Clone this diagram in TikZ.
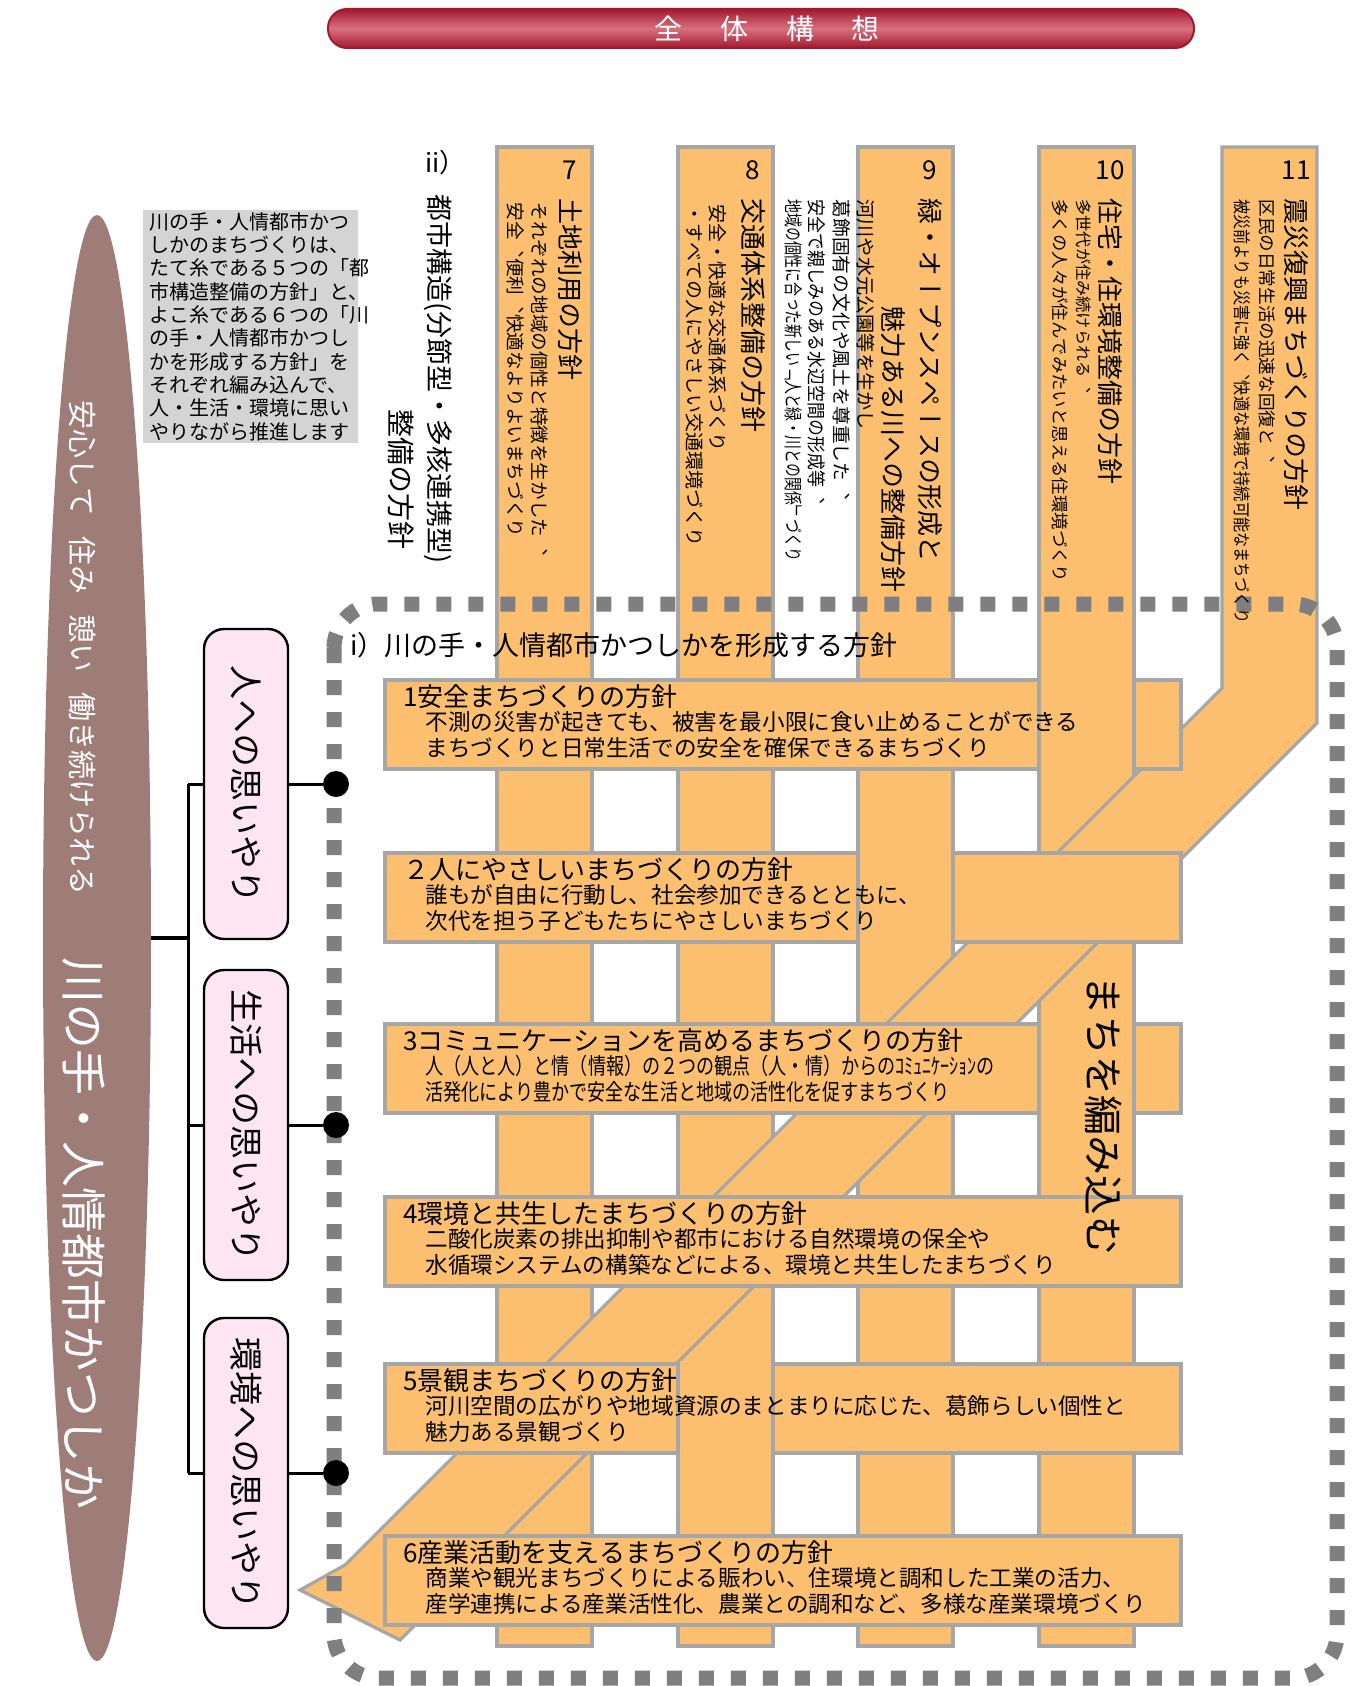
\documentclass[tikz,border=0pt]{standalone}
\usepackage{fontspec}
\setmainfont{Noto Sans CJK JP}
\newfontfamily\vjp[Vertical=RotatedGlyphs]{Noto Sans CJK JP}
\usetikzlibrary{shapes.geometric}
\definecolor{orng}{HTML}{FBBF6F}
\definecolor{gbord}{HTML}{A6A6A6}
\definecolor{dotgray}{HTML}{7F7F7F}
\definecolor{mauve}{HTML}{9E7D79}
\definecolor{boxgray}{HTML}{D4D4D4}
\definecolor{pinkc}{HTML}{FDE6F2}
\definecolor{tred}{HTML}{A3182F}
\definecolor{tlight}{HTML}{D8707E}
\newcommand\fs[1]{\fontsize{#1}{#1}\selectfont}
\begin{document}
\begin{tikzpicture}[x=0.5pt,y=-0.5pt,
  strip/.style={fill=orng,draw=gbord,line width=1.6pt},
  band/.style={fill=orng,draw=gbord,line width=2pt},
  vt/.style={rotate=-90,anchor=west,inner sep=0pt,font={\vjp\fs{#1}}},
  bt/.style={anchor=west,inner sep=0pt,font=\fs{13}},
  bd/.style={anchor=west,inner sep=0pt,font=\fs{11.3}},
  pinkbox/.style={rotate=-90,draw=black,line width=1.2pt,fill=pinkc,rounded corners=10pt,
     minimum width=155pt,minimum height=42pt,inner sep=0pt,font={\vjp\fs{17}}},
  dot/.style={circle,fill=black,minimum size=13pt,inner sep=0pt},
  conn/.style={line width=1.5pt}]
\useasboundingbox (0,0) rectangle (1354,1686);
% title bar
\shade[rounded corners=9.5pt,top color=tred,bottom color=tred,middle color=tlight] (328,9) rectangle (1194,48);
\draw[tred,line width=1pt,rounded corners=9.5pt] (328,9) rectangle (1194,48);
\node[font=\fs{14},text=white] (ttl) at (767,29) {全\hspace{19pt}体\hspace{19pt}構\hspace{19pt}想};
% ellipse
\node[ellipse,fill=mauve,minimum width=54pt,minimum height=723pt,inner sep=0pt] (ell) at (97,938) {};
\node[vt=14.5,text=white] (e1) at (83,400) {安心して\hspace{10pt}住み\hspace{10pt}憩い\hspace{10pt}働き続けられる};
\node[vt=23,text=white] (e2) at (84,957) {川の手・人情都市かつしか};
% gray note
\node[fill=boxgray,anchor=north west,inner xsep=3pt,inner ysep=1pt,text width=101.5pt,align=left,
  font={\fontsize{10}{11.65}\selectfont}] (note) at (143,210)
 {川の手・人情都市かつ\\しかのまちづくりは、\\たて糸である５つの「都\\市構造整備の方針」と、\\よこ糸である６つの「川\\の手・人情都市かつし\\かを形成する方針」を\\それぞれ編み込んで、\\人・生活・環境に思い\\やりながら推進します};
% ii)
\node[anchor=west,inner sep=0pt,font=\fs{13}] (ii) at (425,163) {ii）};
\node[vt=13.5] (iv1) at (438,194) {都市構造(分節型・多核連携型)};
\node[vt=14] (iv2) at (401,409) {整備の方針};
% vertical strips
\foreach \x in {497,678,858,1039} \filldraw[strip] (\x,147) rectangle (\x+95,1646);
\filldraw[strip] (1222,147) -- (1317,147) -- (1317,723) -- (400,1640) -- (300,1590) -- (345,1565) -- (1222,688) -- cycle;
% horizontal bands
\foreach \y in {680,853,1024,1197,1364,1536} \filldraw[band] (385,\y) rectangle (1181,\y+89);
% strip segments over bands
\foreach \x/\y in {1039/680,858/853,1039/1024,678/1364} {
  \fill[orng] (\x,\y-3) rectangle (\x+95,\y+92);
  \draw[gbord,line width=1.6pt] (\x,\y-3) -- (\x,\y+92) (\x+95,\y-3) -- (\x+95,\y+92);
}
% dotted frame
\draw[dotgray,line width=7.5pt,dash pattern=on 7.5pt off 8.5pt,rounded corners=22pt] (334,604) rectangle (1337,1678);
% strip headers
\node[font=\fs{13}] (n7) at (570,170) {7};
\node[vt=13] (h7) at (570,198) {土地利用の方針};
\node[vt=9.3] (d7a) at (540,202) {それぞれの地域の個性と特徴を生かした、};
\node[vt=9.3] (d7b) at (516,202) {安全、便利、快適なよりよいまちづくり};
\node[font=\fs{13}] (n8) at (753,170) {8};
\node[vt=13] (h8) at (753,198) {交通体系整備の方針};
\node[vt=9.5] (d8a) at (718,204) {安全・快適な交通体系づくり};
\node[vt=9.5] (d8b) at (695,204) {・すべての人にやさしい交通環境づくり};
\node[font=\fs{13}] (n9) at (930,170) {9};
\node[vt=13] (h9a) at (930,198) {緑・オープンスペースの形成と};
\node[vt=13] (h9b) at (893,306) {魅力ある川への整備方針};
\node[vt=9.6] (d9a) at (866,199) {河川や水元公園等を生かし};
\node[vt=9.4] (d9b) at (842,199) {葛飾固有の文化や風土を尊重した、};
\node[vt=9.4,xscale=0.9] (d9c) at (817,199) {安全で親しみのある水辺空間の形成等、};
\node[vt=9.4,xscale=0.74] (d9d) at (794,199) {地域の個性に合った新しい「人と緑・川との関係」づくり};
\node[font=\fs{13}] (n10) at (1110,170) {10};
\node[vt=13] (h10) at (1110,198) {住宅・住環境整備の方針};
\node[vt=8.1] (d10a) at (1084,199) {多世代が住み続けられる、};
\node[vt=8.7] (d10b) at (1060,199) {多くの人々が住んでみたいと思える住環境づくり};
\node[font=\fs{13}] (n11) at (1296,170) {11};
\node[vt=13] (h11) at (1296,198) {震災復興まちづくりの方針};
\node[vt=8.8] (d11a) at (1267,199) {区民の日常生活の迅速な回復と、};
\node[vt=8.8,xscale=0.86] (d11b) at (1242,199) {被災前よりも災害に強く、快適な環境で持続可能なまちづくり};
% section label
\node[anchor=west,inner sep=0pt,font=\fs{13.5}] (sec) at (350,645) {i）川の手・人情都市かつしかを形成する方針};
% band texts
\node[bt] (b1t) at (403,697) {1安全まちづくりの方針};
\node[bd] (b1a) at (425,722) {不測の災害が起きても、被害を最小限に食い止めることができる};
\node[bd] (b1b) at (425,748) {まちづくりと日常生活での安全を確保できるまちづくり};
\node[bt] (b2t) at (403,870) {２人にやさしいまちづくりの方針};
\node[bd] (b2a) at (425,895) {誰もが自由に行動し、社会参加できるとともに、};
\node[bd] (b2b) at (425,921) {次代を担う子どもたちにやさしいまちづくり};
\node[bt] (b3t) at (403,1041) {3コミュニケーションを高めるまちづくりの方針};
\node[bd,xscale=0.8] (b3a) at (425,1066) {人（人と人）と情（情報）の２つの観点（人・情）からのｺﾐｭﾆｹｰｼｮﾝの};
\node[bd,xscale=0.8] (b3b) at (425,1092) {活発化により豊かで安全な生活と地域の活性化を促すまちづくり};
\node[bt] (b4t) at (403,1214) {4環境と共生したまちづくりの方針};
\node[bd] (b4a) at (425,1239) {二酸化炭素の排出抑制や都市における自然環境の保全や};
\node[bd] (b4b) at (425,1265) {水循環システムの構築などによる、環境と共生したまちづくり};
\node[bt] (b5t) at (403,1381) {5景観まちづくりの方針};
\node[bd] (b5a) at (425,1406) {河川空間の広がりや地域資源のまとまりに応じた、葛飾らしい個性と};
\node[bd] (b5b) at (425,1432) {魅力ある景観づくり};
\node[bt] (b6t) at (403,1553) {6産業活動を支えるまちづくりの方針};
\node[bd] (b6a) at (425,1578) {商業や観光まちづくりによる賑わい、住環境と調和した工業の活力、};
\node[bd] (b6b) at (425,1604) {産学連携による産業活性化、農業との調和など、多様な産業環境づくり};
\node[vt=20] (weave) at (1104,975) {まちを編み込む};
% left tree
\node[pinkbox] (p1) at (246,784) {人への思いやり};
\node[pinkbox] (p2) at (246,1125) {生活への思いやり};
\node[pinkbox] (p3) at (246,1473) {環境への思いやり};
\node[dot] (d1) at (336,784) {};
\node[dot] (d2) at (336,1125) {};
\node[dot] (d3) at (336,1473) {};
\coordinate (tm) at (188,938);
\coordinate (t1) at (188,784);
\coordinate (t2) at (188,1125);
\coordinate (t3) at (188,1473);
\draw[line width=2pt] (ell.east) -- (tm);
\draw[conn] (t1) -- (t3);
\draw[conn] (t1) -- (p1.south);
\draw[conn] (t2) -- (p2.south);
\draw[conn] (t3) -- (p3.south);
\draw[conn] (p1.north) -- (d1);
\draw[conn] (p2.north) -- (d2);
\draw[conn] (p3.north) -- (d3);
\end{tikzpicture}
\end{document}
